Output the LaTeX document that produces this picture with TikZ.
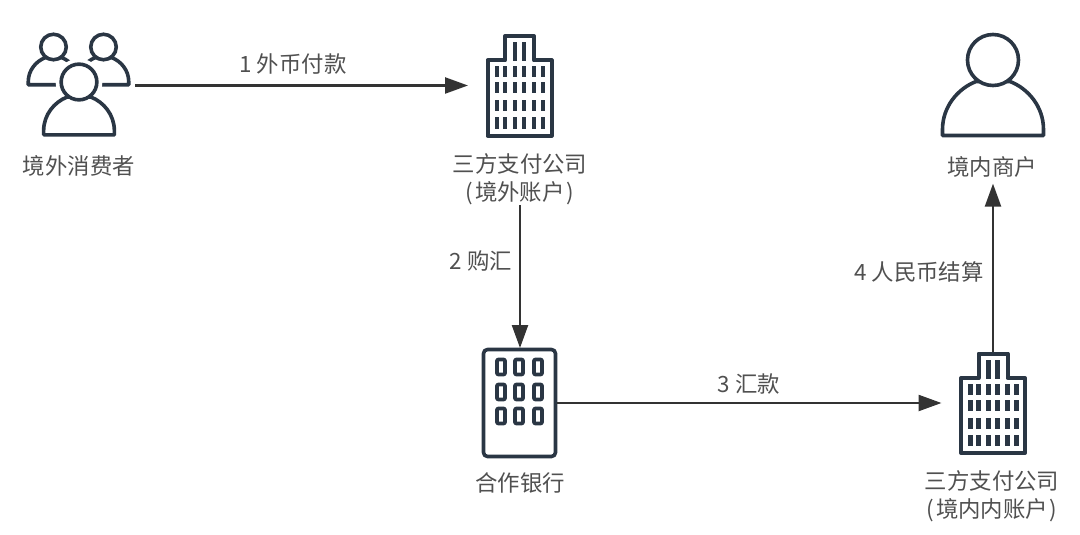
\documentclass[tikz,border=0pt]{standalone}
\usepackage{fontspec}
\setmainfont{Noto Sans CJK SC}
\usetikzlibrary{arrows.meta}
\definecolor{icondark}{HTML}{2A3644}
\definecolor{flowdark}{HTML}{333333}
\definecolor{textgray}{HTML}{505050}
\newcommand{\personbody}{(-50.5,50) -- (-50.5,44) .. controls (-50.5,21) and (-35,3) .. (-17,-4)
  -- (17,-4) .. controls (35,3) and (50.5,21) .. (50.5,44) -- (50.5,50) -- cycle}
\tikzset{
  iconline/.style={draw=icondark,line width=3.6pt,line join=round},
  iconbox/.style={inner sep=0pt,outer sep=0pt,minimum width=#1},
  flow/.style={draw=flowdark,line width=2.4pt,->},
  txt/.style={text=textgray,font=\fontsize{22.4}{28}\selectfont,inner sep=0pt,align=center},
  halo/.store in=\halowidth,halo=3.6pt,
  personicon/.pic={
    \path[draw=white,line width=\halowidth] \personbody (0,-25.5) circle (25.5);
    \path[iconline,fill=white] \personbody;
    \path[iconline,fill=white] (0,-25.5) circle (25.5);
  },
  towericon/.pic={
    \draw[iconline,fill=white,line width=4pt] (-32,50) -- (-32,-25) -- (-14.5,-25) -- (-14.5,-49.5)
      -- (14.5,-49.5) -- (14.5,-25) -- (32,-25) -- (32,50) -- cycle;
    \foreach \x in {-22.5,-14.5,-4.5,4.5,14.5,23.5}
      \foreach \y in {-13.5,2.5,20.5,37.5}
        \fill[icondark] (\x-2.2,\y-5.5) rectangle (\x+2.2,\y+5.5);
    \foreach \x in {-4.5,4.5}
      \fill[icondark] (\x-2.2,-43.5) rectangle (\x+2.2,-24.5);
  },
  bankicon/.pic={
    \draw[iconline,fill=white,rounded corners=4pt] (-36,-53.5) rectangle (36,53.5);
    \foreach \x in {-18.5,-0.5,18.5}
      \foreach \y in {-36,-11,13}
        \draw[iconline,rounded corners=1pt] (\x-4,\y-7.5) rectangle (\x+4,\y+7.5);
  },
}
\begin{document}
\begin{tikzpicture}[x=1pt,y=-1pt,>={Stealth[length=23pt,width=16pt,inset=0pt]}]
  \useasboundingbox (0,0) rectangle (1080,535);
  \node[iconbox=103pt,minimum height=103pt] (consumer) at (78.5,85.5) {};
  \node[iconbox=67pt,minimum height=103pt] (paya) at (519.5,85.5) {};
  \node[iconbox=75pt,minimum height=110pt] (bank) at (519.5,403) {};
  \node[iconbox=67pt,minimum height=103pt] (payb) at (993,403) {};
  \node[iconbox=104pt,minimum height=103pt] (merchant) at (993,85.5) {};

  \pic[scale=.5] at (53.5,59.75) {personicon};
  \pic[scale=.5] at (103.5,59.75) {personicon};
  \pic[scale=.7,halo=11pt] at (79,99.85) {personicon};
  \pic at (paya) {towericon};
  \pic at (bank) {bankicon};
  \pic at (payb) {towericon};
  \pic at (merchant) {personicon};

  \node[txt] (consumerlabel) at (79,166) {境外消费者};
  \node[txt] (payalabel) at (520,179) {三方支付公司\\(\kern2pt 境外账户\kern2pt)};
  \node[txt] (banklabel) at (520,483) {合作银行};
  \node[txt] (payblabel) at (992,496) {三方支付公司\\(\kern2pt 境内内账户\kern2pt)};
  \node[txt] (merchantlabel) at (992,167) {境内商户};

  \draw[flow,shorten <=5pt,shorten >=18pt] (consumer.east) -- (consumer.east -| paya.west);
  \draw[flow] (payalabel.south) -- (payalabel.south |- bank.north);
  \draw[flow,shorten >=18pt] (bank.east) -- (bank.east -| payb.west);
  \draw[flow,shorten >=6pt] (payb.north) -- (payb.north |- merchantlabel.south);

  \node[txt] (flowa) at (293,64) {1 外币付款};
  \node[txt] (flowb) at (481,261) {2 购汇};
  \node[txt] (flowc) at (749,384) {3 汇款};
  \node[txt] (flowd) at (919,272) {4 人民币结算};
\end{tikzpicture}
\end{document}
